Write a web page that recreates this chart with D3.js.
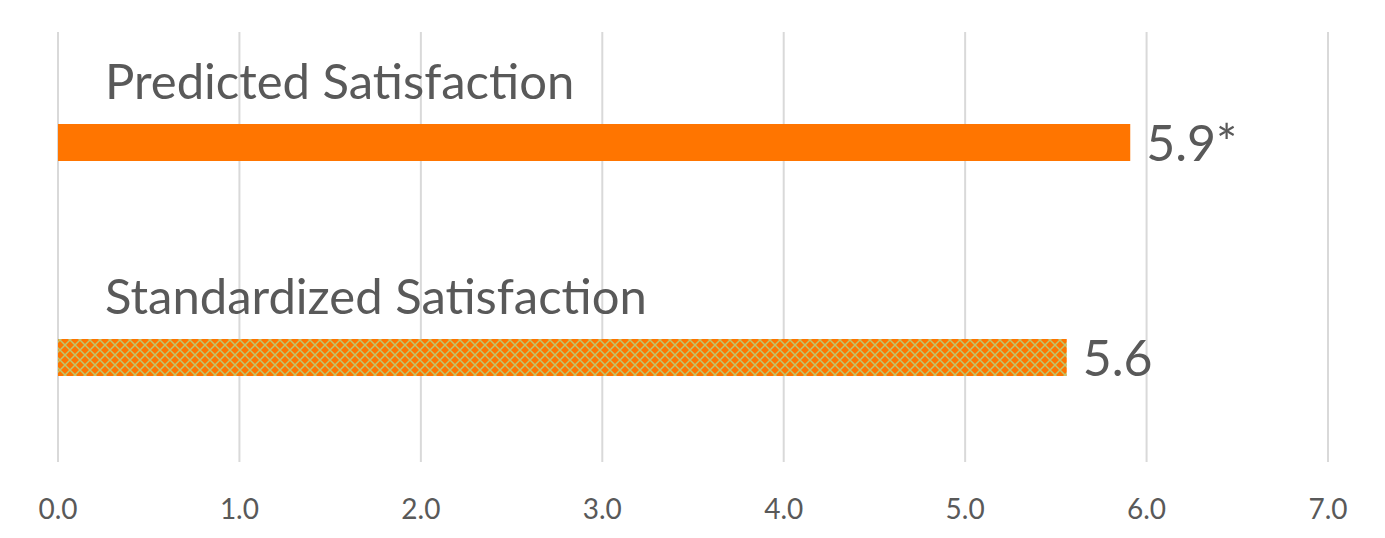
<!DOCTYPE html>
<html>
<head>
<meta charset="utf-8">
<script src="https://cdn.jsdelivr.net/npm/d3@7"></script>
<style>
  body { margin: 0; background: #fff; }
  text { font-family: Lato, "Open Sans", sans-serif; fill: #595959; }
</style>
</head>
<body>
<svg></svg>
<script>
const categories = ["Predicted Satisfaction", "Standardized Satisfaction"];
const values = [5.91, 5.56];
const valueLabels = ["5.9*", "5.6"];
const ticks = [0, 1, 2, 3, 4, 5, 6, 7];

const width = 1385, height = 538;
const svg = d3.select("svg").attr("width", width).attr("height", height);

const x = d3.scaleLinear().domain([0, 7]).range([58, 1328]);
const y = d3.scaleBand().domain(categories).range([32, 462]);

// lattice fill for the second bar
const defs = svg.append("defs");
const pat = defs.append("pattern")
    .attr("id", "lattice")
    .attr("patternUnits", "userSpaceOnUse")
    .attr("width", 10).attr("height", 10);
pat.append("rect").attr("width", 10).attr("height", 10).attr("fill", "#ff7500");
pat.append("path")
    .attr("d", "M0,0 L10,10 M10,0 L0,10")
    .attr("stroke", "#bcc66e")
    .attr("stroke-width", 1.5);

// gridlines
svg.append("g")
  .selectAll("line")
  .data(ticks)
  .enter().append("line")
    .attr("x1", d => x(d)).attr("x2", d => x(d))
    .attr("y1", 32).attr("y2", 462)
    .attr("stroke", "#d9d9d9")
    .attr("stroke-width", 2);

// tick labels
svg.append("g")
  .selectAll("text")
  .data(ticks)
  .enter().append("text")
    .attr("x", d => x(d))
    .attr("y", 519)
    .attr("text-anchor", "middle")
    .style("font-size", "28px")
    .text(d => d3.format(".1f")(d));

const barH = 37;
const barTop = d => y(d) + y.bandwidth() / 2 - barH / 2 + 3;

svg.append("g")
  .selectAll("rect")
  .data(categories)
  .enter().append("rect")
    .attr("x", x(0))
    .attr("y", d => barTop(d))
    .attr("width", (d, i) => x(values[i]) - x(0))
    .attr("height", barH)
    .attr("fill", (d, i) => i === 0 ? "#ff7500" : "url(#lattice)");

// category titles above bars
svg.append("g")
  .selectAll("text")
  .data(categories)
  .enter().append("text")
    .attr("x", 105)
    .attr("y", d => y(d) + 67)
    .style("font-size", "49px")
    .text(d => d);

// value labels
svg.append("g")
  .selectAll("text")
  .data(categories)
  .enter().append("text")
    .attr("x", (d, i) => x(values[i]) + 16)
    .attr("y", d => barTop(d) + barH / 2 + 18)
    .style("font-size", "50px")
    .text((d, i) => valueLabels[i]);
</script>
</body>
</html>
